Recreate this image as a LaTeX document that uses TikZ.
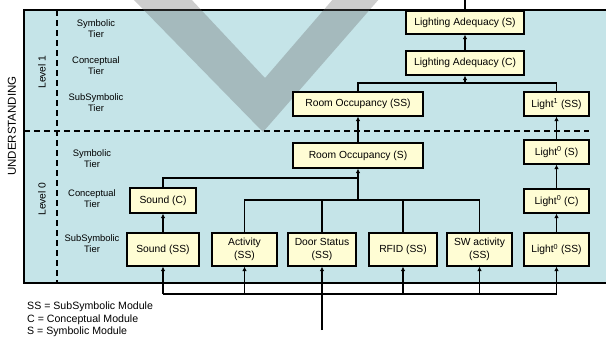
\documentclass[tikz,border=0pt]{standalone}
\usepackage{fontspec}
\setmainfont{Liberation Sans}
\usetikzlibrary{arrows.meta}

\definecolor{panel}{RGB}{197,228,232}
\definecolor{modfill}{RGB}{255,253,212}
\definecolor{wmgray}{RGB}{100,100,100}

\begin{document}
\begin{tikzpicture}[
        x=1pt, y=-1pt, % pixel grid, y downwards
        module/.style = {draw, line width=1.2pt, fill=modfill, align=center, inner sep=0pt,
                font=\fontsize{10.3}{13}\selectfont}, % module boxes
        tier/.style = {align=center, font=\fontsize{9.4}{11}\selectfont}, % tier labels
        lvl/.style = {rotate=90, font=\fontsize{10.3}{12}\selectfont},
        link/.style = {line width=1.1pt},
        arr/.style = {link, -{Latex[length=4.5pt,width=4.5pt]}},
        sep/.style = {line width=1.2pt, dash pattern=on 6pt off 4pt},
    ]
    \useasboundingbox (0,0) rectangle (606,341);

    % panel and watermark
    \draw[line width=1.2pt, fill=panel] (24,10) rectangle (620,283);
    \fill[wmgray, opacity=0.32] (132,-2) -- (263,132) -- (380,-2) -- (334,-2) -- (265,78) -- (190,-2) -- cycle;
    \draw[sep] (57,10) -- (57,283);
    \draw[sep] (24,131) -- (589,131);

    % side labels
    \node[lvl, font=\fontsize{11.5}{13}\selectfont] (und) at (12,126) {UNDERSTANDING};
    \node[lvl] (lev1) at (42,72) {Level 1};
    \node[lvl] (lev0) at (42,199) {Level 0};
    \node[tier] (t1s) at (96,29) {Symbolic\\Tier};
    \node[tier] (t1c) at (96,65.5) {Conceptual\\Tier};
    \node[tier] (t1ss) at (96,102.5) {SubSymbolic\\Tier};
    \node[tier] (t0s) at (92,158.5) {Symbolic\\Tier};
    \node[tier] (t0c) at (92,199) {Conceptual\\Tier};
    \node[tier] (t0ss) at (92,243.5) {SubSymbolic\\Tier};

    % level 1
    \node[module, minimum width=118pt, minimum height=23pt] (las) at (465,22.5) {Lighting Adequacy (S)};
    \node[module, minimum width=118pt, minimum height=24pt] (lac) at (465,63) {Lighting Adequacy (C)};
    \node[module, minimum width=130pt, minimum height=24pt] (ross) at (358,104) {Room Occupancy (SS)};
    \node[module, minimum width=65pt, minimum height=24pt] (l1ss) at (556.5,104) {Light\textsuperscript{1} (SS)};

    % level 0
    \node[module, minimum width=130pt, minimum height=25pt] (ros) at (358,155.5) {Room Occupancy (S)};
    \node[module, minimum width=65pt, minimum height=24pt] (l0s) at (556.5,152) {Light\textsuperscript{0} (S)};
    \node[module, minimum width=65pt, minimum height=24pt] (l0c) at (556.5,201) {Light\textsuperscript{0} (C)};
    \node[module, minimum width=66pt, minimum height=25pt] (sc) at (163,200.5) {Sound (C)};
    \node[module, minimum width=72pt, minimum height=33pt] (sss) at (163,249.5) {Sound (SS)};
    \node[module, minimum width=65pt, minimum height=33pt] (act) at (244.5,249.5) {Activity\\(SS)};
    \node[module, minimum width=68pt, minimum height=33pt] (door) at (322,249.5) {Door Status\\(SS)};
    \node[module, minimum width=68pt, minimum height=33pt] (rfid) at (403,249.5) {RFID (SS)};
    \node[module, minimum width=65pt, minimum height=33pt] (sw) at (479.5,249.5) {SW activity\\(SS)};
    \node[module, minimum width=65pt, minimum height=33pt] (l0ss) at (556.5,249.5) {Light\textsuperscript{0} (SS)};

    % junctions
    \coordinate (top) at (465,0);
    \coordinate (j1) at (465,83);
    \coordinate (j2) at (358,178);
    \coordinate (j3) at (358,200);
    \coordinate (bus) at (322,294);
    \coordinate (feed) at (322,330);

    % connectors
    \draw[link] (las.north) -- (top);
    \draw[arr] (lac) -- (las);
    \draw[link] (ross.north) |- (j1) -| (l1ss.north);
    \draw[arr] (j1) -- (lac.south);
    \draw[arr] (ros) -- (ross);
    \draw[arr] (l0s) -- (l1ss);
    \draw[arr] (l0c) -- (l0s);
    \draw[arr] (l0ss) -- (l0c);
    \draw[arr] (sss) -- (sc);
    \draw[link] (sc.north) |- (j2);
    \draw[link] (act.north) |- (sw.north |- j3) -- (sw.north);
    \draw[link] (door.north) -- (door.north |- j3);
    \draw[link] (rfid.north) -- (rfid.north |- j3);
    \draw[arr] (j3) -- (ros.south);

    % inputs from below
    \draw[link] (feed) -- (bus);
    \draw[link] (sss.south |- bus) -- (l0ss.south |- bus);
    \foreach \m in {sss, act, door, rfid, sw, l0ss}
        \draw[arr] (\m.south |- bus) -- (\m.south);

    % legend
    \node[anchor=north west, align=left, inner sep=0pt, font=\fontsize{10.6}{12.5}\selectfont] (legend) at (27,302)
        {SS = SubSymbolic Module\\C = Conceptual Module\\S = Symbolic Module};
\end{tikzpicture}
\end{document}
